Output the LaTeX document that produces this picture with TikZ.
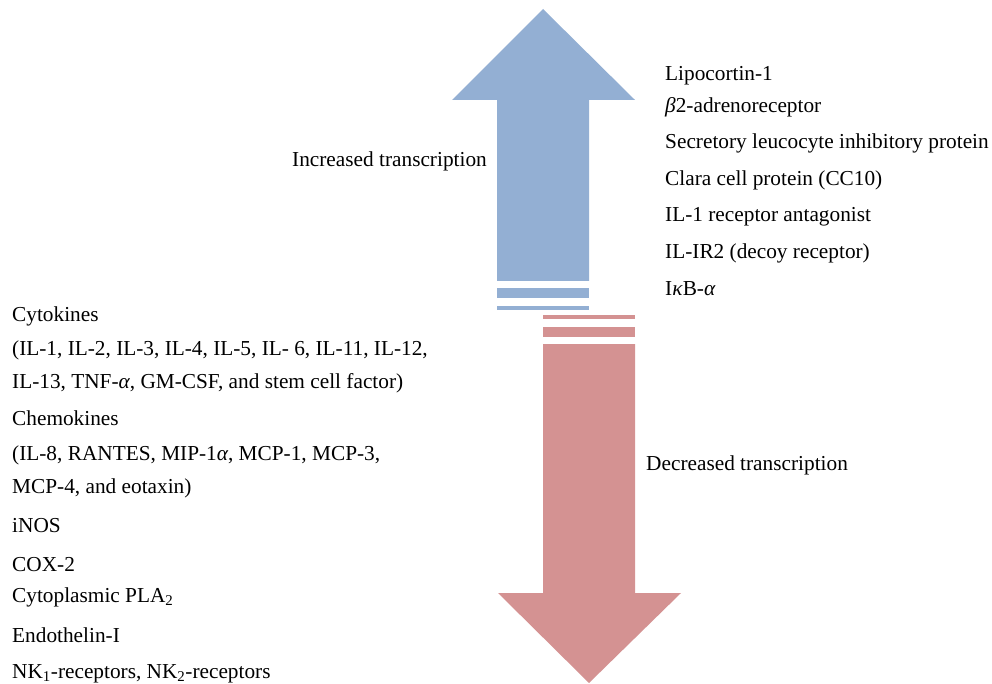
\documentclass[tikz,border=0pt]{standalone}
\usepackage{fontspec}
\setmainfont{Liberation Serif}
\definecolor{upblue}{RGB}{147,175,211}
\definecolor{downred}{RGB}{212,146,146}
\begin{document}
\begin{tikzpicture}[x=1pt,y=-1pt,
  lbl/.style={anchor=base west,inner sep=0pt,font=\fontsize{21.3}{25}\selectfont},
  upfill/.style={fill=upblue,draw=none},
  downfill/.style={fill=downred,draw=none}]
\useasboundingbox (0,0) rectangle (992,684);
% up arrow
\fill[upfill] (497,281) -- (497,100) -- (452,100) -- (543,9) -- (635,100) -- (589,100) -- (589,281) -- cycle;
\fill[upfill] (497,288) rectangle (589,298);
\fill[upfill] (497,306) rectangle (589,310);
% down arrow
\fill[downfill] (543,315) rectangle (635,319);
\fill[downfill] (543,327) rectangle (635,337);
\fill[downfill] (543,344) -- (635,344) -- (635,593) -- (681,593) -- (589,683) -- (498,593) -- (543,593) -- cycle;
% labels
\node[lbl] (inc) at (292,167) {Increased transcription};
\node[lbl] (dec) at (646,470) {Decreased transcription};
% right column
\node[lbl] (r1) at (665,81) {Lipocortin-1};
\node[lbl] (r2) at (665,113) {\textit{β}2-adrenoreceptor};
\node[lbl] (r3) at (665,149) {Secretory leucocyte inhibitory protein};
\node[lbl] (r4) at (665,186) {Clara cell protein (CC10)};
\node[lbl] (r5) at (665,222) {IL-1 receptor antagonist};
\node[lbl] (r6) at (665,259) {IL-IR2 (decoy receptor)};
\node[lbl] (r7) at (665,295) {I\textit{κ}B-\textit{α}};
% left column
\node[lbl] (l1) at (12,321) {Cytokines};
\node[lbl] (l2) at (12,355) {(IL-1, IL-2, IL-3, IL-4, IL-5, IL- 6, IL-11, IL-12,};
\node[lbl] (l3) at (12,388) {IL-13, TNF-\textit{α}, GM-CSF, and stem cell factor)};
\node[lbl] (l4) at (12,425) {Chemokines};
\node[lbl] (l5) at (12,460) {(IL-8, RANTES, MIP-1\textit{α}, MCP-1, MCP-3,};
\node[lbl] (l6) at (12,493) {MCP-4, and eotaxin)};
\node[lbl] (l7) at (12,532) {iNOS};
\node[lbl] (l8) at (12,571) {COX-2};
\node[lbl] (l9) at (12,602) {Cytoplasmic PLA\textsubscript{2}};
\node[lbl] (l10) at (12,642) {Endothelin-I};
\node[lbl] (l11) at (12,678) {NK\textsubscript{1}-receptors, NK\textsubscript{2}-receptors};
\end{tikzpicture}
\end{document}
